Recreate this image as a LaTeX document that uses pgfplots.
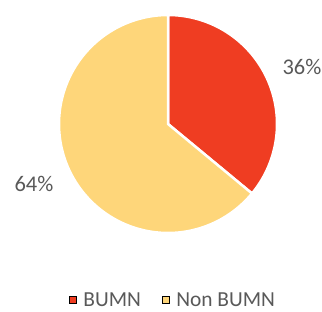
\documentclass[border=0pt]{standalone}
\usepackage{pgfplots}
\usepackage{pgfplotstable}
\pgfplotsset{compat=1.18}
\usepackage{fontspec}
\setmainfont{Carlito}
\definecolor{pieRed}{HTML}{EF3D22}
\definecolor{pieYellow}{HTML}{FED67A}
\definecolor{txt}{HTML}{595959}
\pgfplotstableread{
label value
BUMN 36
NonBUMN 64
}\piedata
\pgfplotstablegetelem{0}{value}\of\piedata \let\va\pgfplotsretval
\pgfplotstablegetelem{1}{value}\of\piedata \let\vb\pgfplotsretval
\begin{document}
\begin{tikzpicture}
\begin{axis}[
  scale only axis, width=322bp, height=312bp,
  xmin=0, xmax=322, ymin=0, ymax=312,
  hide axis, clip=false,
  legend style={at={(axis cs:173,12)}, anchor=center, draw=none, fill=none,
    font=\fontsize{21.5}{23}\selectfont, text=txt, legend columns=2,
    /tikz/every even column/.append style={column sep=19bp}},
  legend image code/.code={\path (0bp,0bp) (12bp,0bp); \fill[#1] (0bp,-3.5bp) rectangle (7bp,3.5bp);},
]
\path[use as bounding box] (rel axis cs:0,0) rectangle (rel axis cs:1,1);
\addplot[fill=pieRed, draw=white, line width=2.5bp, line join=round, domain=0:1, samples=120, variable=\t, forget plot]
  ({168+109*cos(90-3.6*\va*\t)},{188+109*sin(90-3.6*\va*\t)}) -- (axis cs:168,188) -- cycle;
\addplot[fill=pieYellow, draw=white, line width=2.5bp, line join=round, domain=0:1, samples=160, variable=\t, forget plot]
  ({168+109*cos(90-3.6*\va-3.6*\vb*\t)},{188+109*sin(90-3.6*\va-3.6*\vb*\t)}) -- (axis cs:168,188) -- cycle;
\node[text=txt, font=\fontsize{22.5}{24}\selectfont] at (axis cs:302,245) {36\%};
\node[text=txt, font=\fontsize{22.5}{24}\selectfont] at (axis cs:34,128) {64\%};
\addlegendimage{fill=pieRed}
\addlegendentry{BUMN}
\addlegendimage{fill=pieYellow}
\addlegendentry{Non BUMN}
\end{axis}
\end{tikzpicture}
\end{document}
